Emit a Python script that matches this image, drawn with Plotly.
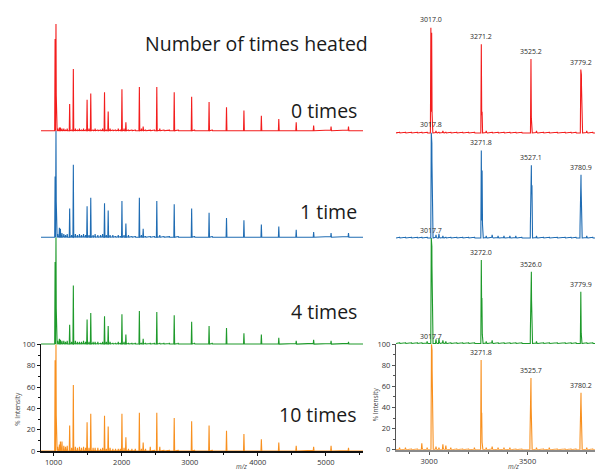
import numpy as np
import plotly.graph_objects as go

# ---------------- data ----------------
# left column: overview spectra (m/z and % intensity)
left_mz = [1022, 1035, 1236, 1290, 1492, 1546, 1748, 1802, 2004, 2062, 2260, 2316,
           2516, 2772, 3028, 3284, 3540, 3796, 4052, 4308, 4564, 4820, 5076, 5332]
left_red = [86, 100, 25, 58, 29, 35, 36, 18, 39, 8, 41, 4, 41, 36, 32, 27, 22, 19, 14, 11, 8, 5, 4, 4]
left_blue = [57, 100, 27, 68, 29, 37, 32, 25, 34, 13, 37, 8, 34, 31, 27, 23, 18, 16, 12, 10, 7, 5, 4, 4]
left_green = [77, 100, 18, 55, 23, 29, 26, 17, 28, 9, 31, 5, 30, 27, 21, 17, 15, 10, 9, 6, 3, 4, 3, 2]
left_orange = [85, 100, 24, 62, 27, 35, 33, 23, 35, 13, 36, 8, 36, 31, 28, 24, 19, 16, 11, 8, 5, 4, 5, 3]

# small baseline peaks, left column
left_minor_mz = [1060, 1085, 1100, 1123, 1150, 1175, 1200, 1265, 1320, 1350, 1380, 1410, 1440,
                 1470, 1520, 1580, 1610, 1650, 1690, 1720, 1775, 1830, 1870, 1910, 1950, 1980,
                 2035, 2100, 2150, 2200, 2290, 2350, 2420, 2480, 2560, 2620, 2700, 2830, 3070, 3330]
left_minor_red = [2, 3, 3, 2, 2, 1, 2, 1, 2, 1, 2, 1, 2, 1, 2, 1, 2, 1, 1, 2, 1, 2, 1, 1, 2, 1,
                  2, 1, 1, 1, 2, 1, 1, 1, 2, 1, 1, 1, 1, 1]
left_minor_blue = [3, 9, 8, 4, 3, 2, 3, 2, 3, 2, 3, 2, 3, 2, 2, 2, 3, 2, 2, 3, 2, 2, 2, 1, 2, 1,
                   2, 2, 1, 1, 2, 1, 1, 1, 2, 1, 1, 1, 1, 1]
left_minor_green = [3, 5, 4, 3, 3, 2, 3, 2, 3, 2, 2, 2, 3, 2, 2, 2, 2, 2, 1, 2, 2, 2, 1, 1, 2, 1,
                    2, 1, 1, 1, 1, 1, 1, 1, 1, 1, 1, 1, 1, 1]
left_minor_orange = [4, 6, 9, 9, 5, 4, 5, 3, 4, 3, 4, 3, 4, 3, 3, 3, 3, 3, 2, 3, 2, 3, 2, 2, 2, 2,
                     3, 2, 2, 2, 2, 2, 4, 1, 4, 1, 1, 1, 1, 1]

# right column: zoomed spectra
right_mz_red = [3009, 3013, 3265, 3269, 3517, 3521, 3770, 3773]
right_red = [100, 95, 84, 20, 70, 10, 60, 55]
right_mz_blue = [3011, 3014, 3265, 3269, 3516, 3519, 3522, 3768, 3771]
right_blue = [100, 90, 83, 64, 56, 69, 50, 56, 60]
right_mz_green = [3011, 3014, 3265, 3268, 3516, 3519, 3522, 3770]
right_green = [100, 92, 79, 43, 58, 68, 33, 49]
right_mz_orange = [3012, 3015, 3264, 3267, 3514, 3517, 3520, 3768, 3771]
right_orange = [100, 94, 85, 35, 57, 68, 26, 51, 54]

right_minor_mz = [2850, 2880, 2910, 2940, 2963, 2990, 3035, 3050, 3070, 3085, 3110, 3140, 3170,
                  3200, 3230, 3290, 3320, 3350, 3380, 3410, 3440, 3470, 3545, 3580, 3610, 3650,
                  3690, 3720, 3745, 3800, 3830]
right_minor_red = [1, 1, 1, 1, 1, 1, 2, 1, 2, 1, 1, 1, 1, 1, 1, 2, 1, 1, 1, 1, 1, 1, 2, 1, 1, 1,
                   1, 1, 1, 2, 1]
right_minor_blue = [1, 1, 1, 1, 1, 1, 3, 4, 2, 1, 1, 1, 1, 1, 1, 2, 3, 2, 2, 2, 2, 1, 2, 1, 1, 1,
                    1, 1, 1, 2, 1]
right_minor_green = [1, 1, 1, 1, 1, 2, 4, 5, 3, 2, 1, 1, 1, 1, 1, 2, 3, 1, 1, 1, 1, 1, 2, 1, 1, 1,
                     1, 1, 1, 1, 1]
right_minor_orange = [2, 2, 1, 1, 6, 2, 3, 2, 5, 4, 2, 1, 1, 1, 2, 2, 3, 2, 2, 2, 1, 1, 2, 1, 2, 1,
                      1, 1, 1, 2, 1]

# peak labels (right column)
label_red = ["3017.0", "3271.2", "3525.2", "3779.2"]
label_red_mz = [3011, 3265, 3517, 3770]
label_red_h = [100, 84, 70, 60]
label_blue = ["3017.8", "3271.8", "3527.1", "3780.9"]
label_blue_mz = [3011, 3265, 3519, 3771]
label_blue_h = [100, 83, 69, 60]
label_green = ["3017.7", "3272.0", "3526.0", "3779.9"]
label_green_mz = [3011, 3265, 3519, 3770]
label_green_h = [100, 79, 68, 49]
label_orange = ["3017.7", "3271.8", "3525.7", "3780.2"]
label_orange_mz = [3012, 3264, 3517, 3771]
label_orange_h = [100, 85, 68, 54]

series_names = ["0 times", "1 time", "4 times", "10 times"]
title_text = "Number of times heated"
left_ticks = [1000, 2000, 3000, 4000, 5000]
right_ticks = [3000, 3500]
y_ticks = [0, 20, 40, 60, 80, 100]

# ---------------- layout helpers ----------------
W, H = 597, 472
colors = ["#f31d1d", "#1f6cb3", "#1e9a2b", "#f8901f"]


def px(x):
    return x / W


def py(y):
    return 1 - y / H


def profile(grid, pos, hts, w):
    y = np.zeros_like(grid)
    for p, h in zip(pos, hts):
        y = np.maximum(y, h * np.clip(1 - np.abs(grid - p) / w, 0, None))
    return y


left_range = [815, 5545]
right_range = [2832, 3842]
left_grid = np.arange(left_range[0], left_range[1] + 1, 1.0)
right_grid = np.arange(right_range[0], right_range[1] + 1, 0.5)

left_sets = [(left_red, left_minor_red), (left_blue, left_minor_blue),
             (left_green, left_minor_green), (left_orange, left_minor_orange)]
right_sets = [(right_mz_red, right_red, right_minor_red),
              (right_mz_blue, right_blue, right_minor_blue),
              (right_mz_green, right_green, right_minor_green),
              (right_mz_orange, right_orange, right_minor_orange)]
labels = [(label_red, label_red_mz, label_red_h), (label_blue, label_blue_mz, label_blue_h),
          (label_green, label_green_mz, label_green_h),
          (label_orange, label_orange_mz, label_orange_h)]

# baselines (pixels) for red, blue, green, orange
left_base = [128.5, 237.3, 346.4, 455.7]
left_h = 109.0
right_base = [130.7, 238.0, 345.8, 454.3]
right_h = 107.8

# axis names: panel index 0..3 (red..orange); orange is bottom
left_y = ["y4", "y3", "y2", "y"]
right_y = ["y8", "y7", "y6", "y5"]

fig = go.Figure()

for i in range(4):
    main, minor = left_sets[i]
    yv = np.maximum(profile(left_grid, left_mz, main, 6), profile(left_grid, left_minor_mz, minor, 5))
    fig.add_trace(go.Scatter(x=left_grid, y=yv, mode="lines", xaxis="x", yaxis=left_y[i],
                             line=dict(color=colors[i], width=1.1), hoverinfo="skip",
                             showlegend=False))
    pos, main, minor = right_sets[i]
    yv = np.maximum(profile(right_grid, pos, main, 2.5), profile(right_grid, right_minor_mz, minor, 2.5))
    fig.add_trace(go.Scatter(x=right_grid, y=yv, mode="lines", xaxis="x2", yaxis=right_y[i],
                             line=dict(color=colors[i], width=1.1), hoverinfo="skip",
                             showlegend=False))

tickfont = dict(family="Open Sans", size=7.5, color="#333333")
layout = dict(
    width=W, height=H, margin=dict(l=0, r=0, t=0, b=0),
    paper_bgcolor="white", plot_bgcolor="rgba(0,0,0,0)",
    showlegend=False,
    font=dict(family="Open Sans", color="#222222"),
)

layout["xaxis"] = dict(domain=[px(41), px(363)], range=left_range, anchor="y",
                       tickvals=left_ticks, ticks="outside", ticklen=3, tickwidth=1,
                       tickcolor="#111111", showline=True, linecolor="#111111", linewidth=1.5,
                       showgrid=False, zeroline=False, tickfont=tickfont,
                       minor=dict(dtick=500, tick0=0, ticks="outside", ticklen=2,
                                  tickcolor="#111111"))
layout["xaxis2"] = dict(domain=[px(396), px(595)], range=right_range, anchor="y5",
                        tickvals=right_ticks, ticks="outside", ticklen=3, tickwidth=1,
                        tickcolor="#555555", showline=True, linecolor="#8a8a8a", linewidth=2,
                        showgrid=False, zeroline=False, tickfont=tickfont,
                        minor=dict(dtick=100, tick0=0, ticks="outside", ticklen=2,
                                   tickcolor="#555555"))

for i in range(4):
    bottom = (i == 3)
    for side, base, hh, names, xa, lc in (("L", left_base, left_h, left_y, "x", "#111111"),
                                          ("R", right_base, right_h, right_y, "x2", "#555555")):
        name = names[i]
        key = "yaxis" if name == "y" else "yaxis" + name[1:]
        if bottom:
            rng = [0, 100]
            dom = [py(base[i]), py(base[i] - hh)]
            layout[key] = dict(domain=dom, range=rng, anchor=xa, tickvals=y_ticks,
                               ticks="outside", ticklen=3, tickwidth=1, tickcolor=lc,
                               showline=True, linecolor=lc, linewidth=1.3,
                               showgrid=False, zeroline=False, tickfont=tickfont,
                               minor=dict(tickvals=[10, 30, 50, 70, 90], ticks="outside",
                                          ticklen=2, tickcolor=lc))
        else:
            rng = [-3, 100]
            dom = [py(base[i] + 3 * hh / 100), py(base[i] - hh)]
            layout[key] = dict(domain=dom, range=rng, anchor=xa, visible=False,
                               showgrid=False, zeroline=False)

fig.update_layout(**layout)

annotations = []
# title and series names
annotations.append(dict(x=px(256), y=py(39), xref="paper", yref="paper", text=title_text,
                        showarrow=False, xanchor="center", yanchor="middle",
                        font=dict(family="Open Sans", size=19.5, color="#1a1a1a")))
name_y = [108, 211, 313, 418]
for i, nm in enumerate(series_names):
    annotations.append(dict(x=px(359), y=py(name_y[i]), xref="paper", yref="paper", text=nm,
                            showarrow=False, xanchor="right", yanchor="middle",
                            font=dict(family="Open Sans", size=19.5, color="#1a1a1a")))

# peak labels
for i in range(4):
    txts, mzs, hs = labels[i]
    for t, m, h in zip(txts, mzs, hs):
        annotations.append(dict(x=m, y=h, xref="x2", yref=right_y[i], text=t, showarrow=False,
                                xanchor="center", yanchor="bottom", yshift=1,
                                font=dict(family="Open Sans", size=7, color="#2a2a2a")))

# axis titles
for xp, ypx in ((17.5, 413), (375, 408)):
    annotations.append(dict(x=px(xp), y=py(ypx), xref="paper", yref="paper", text="% Intensity",
                            showarrow=False, textangle=-90, xanchor="center", yanchor="middle",
                            font=dict(family="Open Sans", size=6.5, color="#444444")))
for xp in (241, 513):
    annotations.append(dict(x=px(xp), y=py(471), xref="paper", yref="paper", text="<i>m/z</i>",
                            showarrow=False, xanchor="center", yanchor="middle",
                            font=dict(family="Open Sans", size=6.5, color="#444444")))

fig.update_layout(annotations=annotations)
fig.write_html("out.html", config={"displayModeBar": False},
               post_script="document.body.style.margin='0';document.body.style.overflow='hidden';")
